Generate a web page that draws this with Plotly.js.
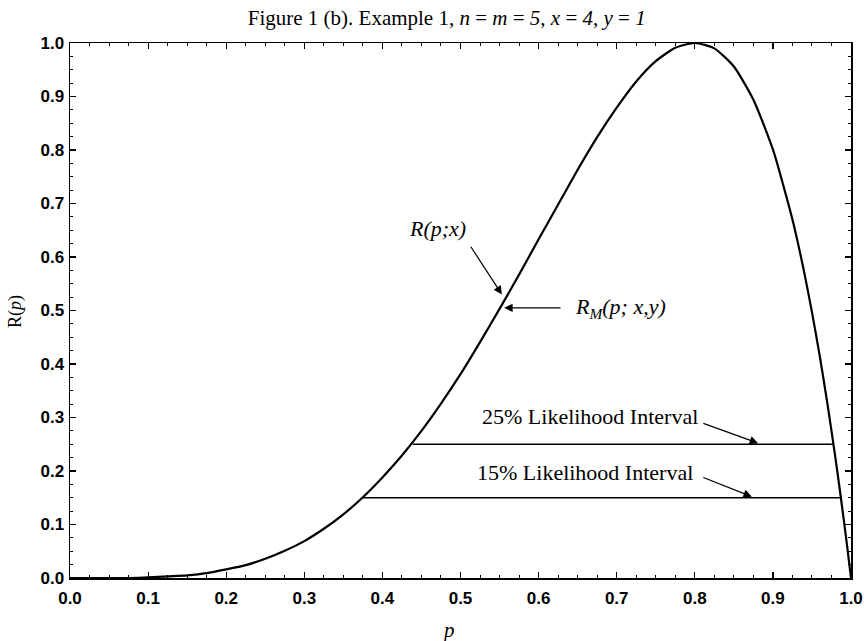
<!DOCTYPE html>
<html>
<head>
<meta charset="utf-8">
<script src="https://cdn.plot.ly/plotly-3.0.1.min.js"></script>
<style>html,body{margin:0;padding:0;background:#fff;}#chart{width:864px;height:641px;}</style>
</head>
<body>
<div id="chart"></div>
<script>
// Relative likelihood curve
const pValues = [0,0.025,0.05,0.075,0.1,0.125,0.15,0.175,0.2,0.225,0.25,0.275,0.3,0.325,0.35,0.375,0.4,0.425,0.45,0.475,0.5,0.525,0.55,0.575,0.6,0.625,0.65,0.675,0.7,0.725,0.75,0.775,0.8,0.825,0.85,0.875,0.9,0.925,0.94,0.95,0.96,0.97,0.98,0.985,0.99,0.995,1.0];
const rValues = [0,0,0.000,0.000,0.001,0.003,0.005,0.009,0.016,0.024,0.036,0.051,0.069,0.092,0.119,0.151,0.188,0.229,0.275,0.326,0.381,0.441,0.503,0.567,0.633,0.698,0.763,0.824,0.879,0.928,0.966,0.991,1.0,0.990,0.956,0.894,0.801,0.670,0.572,0.497,0.415,0.324,0.225,0.172,0.117,0.060,0];

// Likelihood intervals
const intervalLevels = [0.25, 0.15];
const intervalLower = [0.439, 0.375];
const intervalUpper = [0.977, 0.986];
const intervalLabels = ["25% Likelihood Interval", "15% Likelihood Interval"];

const xTickVals = [0,0.1,0.2,0.3,0.4,0.5,0.6,0.7,0.8,0.9,1.0];
const xTickText = ["0.0","0.1","0.2","0.3","0.4","0.5","0.6","0.7","0.8","0.9","1.0"];
const yTickVals = xTickVals;
const yTickText = xTickText;

const serif = "Liberation Serif, Times New Roman, serif";
const sans = "Liberation Sans, Arial, sans-serif";

const traces = [{
  x: pValues, y: rValues, type: 'scatter', mode: 'lines',
  line: {color: '#000', width: 2.2, shape: 'spline', smoothing: 0.6},
  hoverinfo: 'skip', cliponaxis: false
}];
intervalLevels.forEach((lv, i) => {
  traces.push({
    x: [intervalLower[i], intervalUpper[i]], y: [lv, lv],
    type: 'scatter', mode: 'lines', line: {color: '#000', width: 1.6},
    hoverinfo: 'skip'
  });
});

const annText = {font: {family: serif, size: 22, color: '#000'}, showarrow: false, xref: 'x', yref: 'y'};
const arrow = (tx, ty, ax, ay) => ({
  x: tx, y: ty, ax: ax, ay: ay, xref: 'x', yref: 'y', axref: 'x', ayref: 'y',
  text: '', showarrow: true, arrowhead: 2, arrowsize: 1.4, arrowwidth: 1.2, arrowcolor: '#000'
});

const annotations = [
  Object.assign({}, annText, {x: 0.470, y: 0.654, text: '<i>R(p;x)</i>'}),
  arrow(0.553, 0.530, 0.512, 0.622),
  Object.assign({}, annText, {x: 0.644, y: 0.505, xanchor: 'left', text: '<i>R<sub>M</sub>(p; x,y)</i>'}),
  arrow(0.556, 0.505, 0.630, 0.505),
  Object.assign({}, annText, {x: 0.666, y: 0.301, text: intervalLabels[0]}),
  arrow(0.881, 0.252, 0.809, 0.290),
  Object.assign({}, annText, {x: 0.659, y: 0.198, text: intervalLabels[1]}),
  arrow(0.873, 0.152, 0.809, 0.189),
  // axis titles
  {xref: 'paper', yref: 'paper', x: 0.484, y: -0.097, xanchor: 'center', yanchor: 'middle',
   text: '<i>p</i>', showarrow: false, font: {family: serif, size: 21, color: '#000'}},
  {xref: 'paper', yref: 'paper', x: -0.0704, y: 0.497, xanchor: 'center', yanchor: 'middle',
   textangle: -90, text: 'R(<i>p</i>)', showarrow: false, font: {family: serif, size: 18, color: '#000'}}
];

const axisCommon = {
  range: [0, 1], showgrid: false, zeroline: false,
  showline: true, linecolor: '#000', linewidth: 1.5, mirror: 'allticks',
  ticks: 'inside', ticklen: 6, tickwidth: 1.2, tickcolor: '#000',
  minor: {ticks: 'inside', ticklen: 3, dtick: 0.025, tickwidth: 1, tickcolor: '#000'},
  tickfont: {family: sans, size: 17, color: '#000', weight: 'bold'},
  tickmode: 'array'
};

const layout = {
  width: 864, height: 641,
  margin: {l: 70, r: 13, t: 43, b: 63},
  paper_bgcolor: '#fff', plot_bgcolor: '#fff',
  showlegend: false,
  title: {
    text: 'Figure 1 (b). Example 1, <i>n</i> = <i>m</i> = <i>5</i>, <i>x</i> = <i>4</i>, <i>y</i> = <i>1</i>',
    font: {family: serif, size: 21, color: '#000'},
    x: 0.517, xref: 'container', xanchor: 'center', y: 0.972, yref: 'container', yanchor: 'middle'
  },
  xaxis: Object.assign({}, axisCommon, {
    tickvals: xTickVals, ticktext: xTickText, ticklabelstandoff: 4
  }),
  yaxis: Object.assign({}, axisCommon, {
    tickvals: yTickVals, ticktext: yTickText, ticklabelstandoff: 1
  }),
  annotations: annotations
};

Plotly.newPlot('chart', traces, layout, {displayModeBar: false, staticPlot: true});
</script>
</body>
</html>
